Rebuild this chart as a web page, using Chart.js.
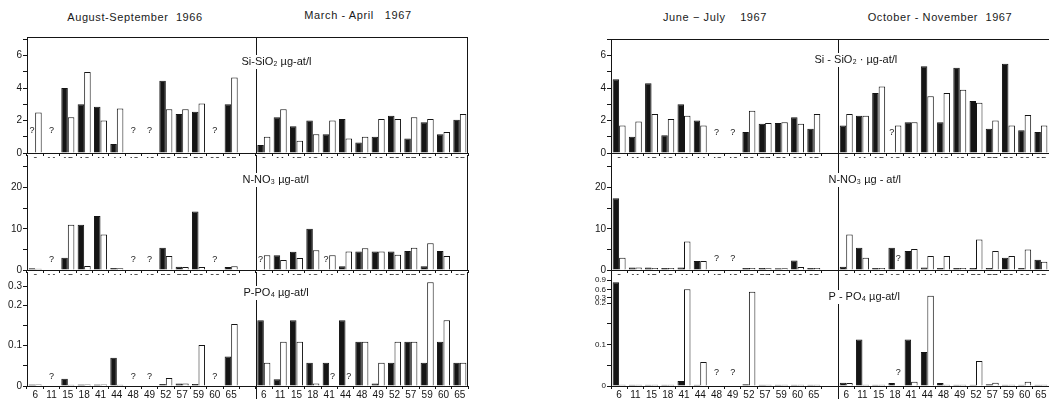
<!DOCTYPE html>
<html>
<head>
<title>Nutrients by station</title>
<script src="https://cdn.jsdelivr.net/npm/chart.js"></script>
<style>
body { margin:0; background:#fff; width:1049px; height:399px; position:relative; overflow:hidden; }
canvas { position:absolute; }
.hd { position:absolute; font:11px "Liberation Sans"; letter-spacing:0.6px; color:#1a1a1a; white-space:nowrap; transform:translateX(-50%); line-height:14px; }
</style>
</head>
<body>
<div class="hd" style="left:135px;top:10px">August-September&nbsp; 1966</div>
<div class="hd" style="left:358px;top:8px">March - April&nbsp;&nbsp; 1967</div>
<div class="hd" style="left:715px;top:10px">June &minus; July&nbsp;&nbsp;&nbsp; 1967</div>
<div class="hd" style="left:940px;top:10px">October - November&nbsp; 1967</div>
<canvas id="lSi"></canvas><canvas id="lN"></canvas><canvas id="lP"></canvas>
<canvas id="rSi"></canvas><canvas id="rN"></canvas><canvas id="rP"></canvas>
<script>
// stations, same order in every period
const stations = ['6', '11', '15', '18', '41', '44', '48', '49', '52', '57', '59', '60', '65'];
const slots = [...stations, '', ...stations];

// August-September 1966 (black / white bars), null = "?"
const siAugB = [null, null, 4.0, 3.0, 2.85, 0.55, null, null, 4.45, 2.4, 2.55, null, 3.0];
const siAugW = [2.5, null, 2.2, 5.0, 2.0, 2.75, null, null, 2.7, 2.7, 3.05, null, 4.65];
const nAugB = [0.4, null, 3.0, 11.0, 13.1, 0.5, null, null, 5.4, 0.8, 14.2, null, 0.7];
const nAugW = [0.3, null, 11.0, 1.0, 8.6, 0.4, null, null, 3.4, 0.7, 0.7, null, 0.9];
const pAugB = [0.004, null, 0.018, 0.004, 0.004, 0.07, null, null, 0.005, 0.006, 0.005, null, 0.073];
const pAugW = [0.004, null, 0.003, 0.004, 0.004, 0.003, null, null, 0.02, 0.006, 0.102, null, 0.154];

// March-April 1967
const siMarB = [0.5, 2.2, 1.65, 2.0, 1.15, 2.1, 0.65, 1.0, 2.3, 0.9, 1.9, 1.15, 2.05];
const siMarW = [1.0, 2.7, 0.75, 1.15, 2.0, 0.9, 1.0, 2.1, 2.1, 2.2, 2.1, 1.3, 2.4];
const nMarB = [null, 3.6, 4.4, 10.0, null, 0.9, 4.5, 4.5, 4.5, 4.6, 0.9, 4.6, 0];
const nMarW = [3.6, 2.4, 2.9, 4.8, 3.6, 4.5, 5.3, 4.5, 3.7, 5.4, 6.5, 3.4, 0];
const pMarB = [0.163, 0.017, 0.163, 0.058, 0.058, 0.163, 0.11, 0.006, 0.058, 0.11, 0.058, 0.11, 0.058];
const pMarW = [0.058, 0.11, 0.11, 0.006, null, null, 0.11, 0.058, 0.11, 0.11, 0.32, 0.163, 0.058];

// June-July 1967
const siJunB = [4.55, 1.0, 4.3, 1.1, 3.0, 2.0, null, null, 1.3, 1.8, 1.85, 2.2, 1.5];
const siJunW = [1.7, 1.95, 2.4, 2.1, 2.3, 1.7, null, null, 2.6, 1.85, 1.9, 1.8, 2.4];
const nJunB = [17.4, 0.6, 0.6, 0.5, 0.6, 2.2, null, null, 0.5, 0.5, 0.4, 2.3, 0.5];
const nJunW = [3.0, 0.6, 0.5, 0.5, 6.9, 2.2, null, null, 0.5, 0.4, 0.4, 0.7, 0.5];
const pJunB = [0.83, 0.003, 0.003, 0.003, 0.012, 0.003, null, null, 0.004, 0.003, 0.003, 0.003, 0.003];
const pJunW = [0.003, 0.003, 0.003, 0.003, 0.6, 0.058, null, null, 0.51, 0.003, 0.003, 0.003, 0.003];

// October-November 1967
const siOctB = [1.7, 2.3, 3.7, null, 1.9, 5.35, 1.9, 5.25, 3.2, 1.5, 5.5, 1.4, 1.3];
const siOctW = [2.4, 2.3, 4.1, 1.7, 1.9, 3.5, 3.7, 3.9, 3.1, 2.0, 1.7, 2.35, 1.7];
const nOctB = [0.8, 5.4, 0.5, 5.4, 4.6, 0.6, 0.5, 0.5, 0.5, 0.5, 3.0, 0.5, 2.5];
const nOctW = [8.6, 3.0, 0.5, null, 5.1, 3.4, 3.4, 0.5, 7.4, 4.6, 3.4, 5.0, 2.0];
const pOctB = [0.008, 0.112, 0.003, 0.007, 0.112, 0.082, 0.007, 0.003, 0.003, 0.004, 0.003, 0.003, 0.003];
const pOctW = [0.007, 0.003, 0.003, null, 0.01, 0.37, 0.003, 0.003, 0.06, 0.008, 0.003, 0.01, 0.003];

// P axis is broken above 0.2: [value, axis position]
const pBreakLeft = [[0, 0], [0.2, 0.2], [0.3, 0.248]];
const pBreakRight = [[0, 0], [0.2, 0.2], [0.3, 0.2128], [0.6, 0.233], [0.9, 0.2554]];
const pTicksLeft = [0, 0.05, 0.1, 0.15, 0.2, 0.3];
const pTicksRight = [0, 0.05, 0.1, 0.15, 0.2, 0.3, 0.6, 0.9];
const pTickShown = [0, 0.1, 0.2, 0.3, 0.6, 0.9];

function squeeze(knots) {
    return v => {
        if (v === null) return null;
        for (let i = 1; i < knots.length; i++) {
            const [a0, b0] = knots[i - 1], [a1, b1] = knots[i];
            if (v <= a1 || i === knots.length - 1) return b0 + (v - a0) * (b1 - b0) / (a1 - a0);
        }
    };
}

const ink = '#151515';

// frame, divider, row label and "?" marks
const framePlugin = {
    id: 'frame',
    afterDatasetsDraw(chart, args, o) {
        const {ctx, chartArea: a, scales: {x, y}} = chart;
        const b = chart.data.datasets[0].data, w = chart.data.datasets[1].data;
        const cw = x.getPixelForValue(1) - x.getPixelForValue(0);
        const bw = cw * 0.8 / 2;
        ctx.save();
        ctx.fillStyle = ink;
        ctx.font = '9px "Liberation Sans"';
        ctx.textAlign = 'center';
        ctx.textBaseline = 'middle';
        const qy = y.getPixelForValue(0) - o.q;
        b.forEach((v, i) => {
            if (slots[i] === '') return;
            const cx = x.getPixelForValue(i);
            if (v === null && w[i] === null) ctx.fillText('?', cx, qy);
            else if (v === null) ctx.fillText('?', cx - bw / 2, qy);
            else if (w[i] === null) ctx.fillText('?', cx + bw / 2, qy);
        });

        ctx.strokeStyle = ink;
        ctx.lineWidth = 1;
        const xd = Math.round((x.getPixelForValue(13) + x.getPixelForValue(14)) / 2) + 0.5;
        ctx.beginPath();
        ctx.moveTo(xd, a.top);
        ctx.lineTo(xd, o.divDown ? chart.height : a.bottom);
        if (o.top) { ctx.moveTo(a.left, a.top + 0.5); ctx.lineTo(a.right, a.top + 0.5); }
        if (o.right) { ctx.moveTo(a.right - 0.5, a.top); ctx.lineTo(a.right - 0.5, a.bottom); }
        ctx.stroke();

        ctx.font = '11px "Liberation Sans"';
        ctx.textAlign = 'left';
        const tw = ctx.measureText(o.label).width;
        const lx = xd + o.lx, ly = a.top + o.ly;
        ctx.fillStyle = '#fff';
        ctx.fillRect(lx - 2, ly - 7, tw + 4, 14);
        ctx.fillStyle = ink;
        ctx.fillText(o.label, lx, ly);
        ctx.restore();
    }
};

function row(id, box, blk, wht, yAxis, frame) {
    const cv = document.getElementById(id);
    const cTop = box.top - 8;
    const xh = box.labels ? 13 : 5;
    const cLeft = box.left - 27;
    cv.width = box.right - cLeft + box.padR;
    cv.height = box.bottom - cTop + xh;
    cv.style.left = cLeft + 'px';
    cv.style.top = cTop + 'px';
    return new Chart(cv.getContext('2d'), {
        type: 'bar',
        data: {
            labels: slots,
            datasets: [
                {data: blk, backgroundColor: ink, borderColor: ink, borderWidth: 1, borderSkipped: 'bottom'},
                {data: wht, backgroundColor: '#fff', borderColor: ink, borderWidth: 1, borderSkipped: 'bottom'}
            ]
        },
        options: {
            responsive: false,
            animation: false,
            devicePixelRatio: 1,
            categoryPercentage: 0.8,
            barPercentage: 1.0,
            layout: {padding: {top: 8, right: box.padR, left: 0, bottom: 0}},
            plugins: {legend: {display: false}, tooltip: {enabled: false}, frame: frame},
            scales: {
                x: {
                    type: 'category',
                    offset: true,
                    grid: {offset: true, drawOnChartArea: false, tickLength: 3, color: ink},
                    border: {color: ink},
                    ticks: {display: box.labels, autoSkip: false, maxRotation: 0, padding: 0, color: ink,
                            font: {family: 'Liberation Sans', size: 10}},
                    afterFit(s) { s.height = xh; }
                },
                y: Object.assign({
                    min: 0,
                    border: {color: ink},
                    grid: {drawOnChartArea: false, tickLength: 4, color: ink},
                    afterFit(s) { s.width = 27; }
                }, yAxis)
            }
        },
        plugins: [framePlugin]
    });
}

function plainY(max, step, every, size) {
    return {
        max: max,
        ticks: {stepSize: step, includeBounds: false, autoSkip: false, padding: 1, color: ink,
                font: {family: 'Liberation Sans', size: 10},
                callback: v => (v % every === 0 ? String(v) : '')}
    };
}

function brokenY(knots, ticks, max) {
    const t = squeeze(knots);
    return {
        max: max,
        afterBuildTicks(s) { s.ticks = ticks.map(v => ({value: t(v)})); },
        ticks: {autoSkip: false, padding: 1, color: ink,
                font: {family: 'Liberation Sans', size: knots.length > 3 ? 8 : 10},
                callback: (v, i) => (pTickShown.includes(ticks[i]) ? String(ticks[i]) : '')}
    };
}

const join = (a, b) => [...a, null, ...b];
const tL = squeeze(pBreakLeft), tR = squeeze(pBreakRight);

// left panel
const L = {left: 27, right: 468, padR: 2};
row('lSi', Object.assign({top: 37, bottom: 155}, L), join(siAugB, siMarB), join(siAugW, siMarW),
    plainY(7.15, 1, 2), {label: 'Si-SiO\u2082 \u00b5g-at/l', lx: -15, ly: 25, q: 22, top: true, right: true});
row('lN', Object.assign({top: 155, bottom: 272}, L), join(nAugB, nMarB), join(nAugW, nMarW),
    plainY(27.9, 5, 10), {label: 'N-NO\u2083 \u00b5g-at/l', lx: -14, ly: 25, q: 10, right: true});
row('lP', Object.assign({top: 272, bottom: 386, labels: true}, L),
    join(pAugB, pMarB).map(tL), join(pAugW, pMarW).map(tL),
    brokenY(pBreakLeft, pTicksLeft, 0.283), {label: 'P-PO\u2084 \u00b5g-at/l', lx: -13, ly: 21, q: 9, right: true, divDown: true});

// right panel
const R = {left: 611, right: 1049, padR: 0};
row('rSi', Object.assign({top: 39, bottom: 155}, R), join(siJunB, siOctB), join(siJunW, siOctW),
    plainY(7.03, 1, 2), {label: 'Si - SiO\u2082 \u00b7 \u00b5g-at/l', lx: -24, ly: 21, q: 20, top: true});
row('rN', Object.assign({top: 155, bottom: 272}, R), join(nJunB, nOctB), join(nJunW, nOctW),
    plainY(27.9, 5, 10), {label: 'N-NO\u2083 \u00b5g - at/l', lx: -10, ly: 25, q: 11});
row('rP', Object.assign({top: 272, bottom: 386, labels: true}, R),
    join(pJunB, pOctB).map(tR), join(pJunW, pOctW).map(tR),
    brokenY(pBreakRight, pTicksRight, 0.2747), {label: 'P - PO\u2084 \u00b5g-at/l', lx: -10, ly: 25, q: 13, divDown: true});
</script>
</body>
</html>
